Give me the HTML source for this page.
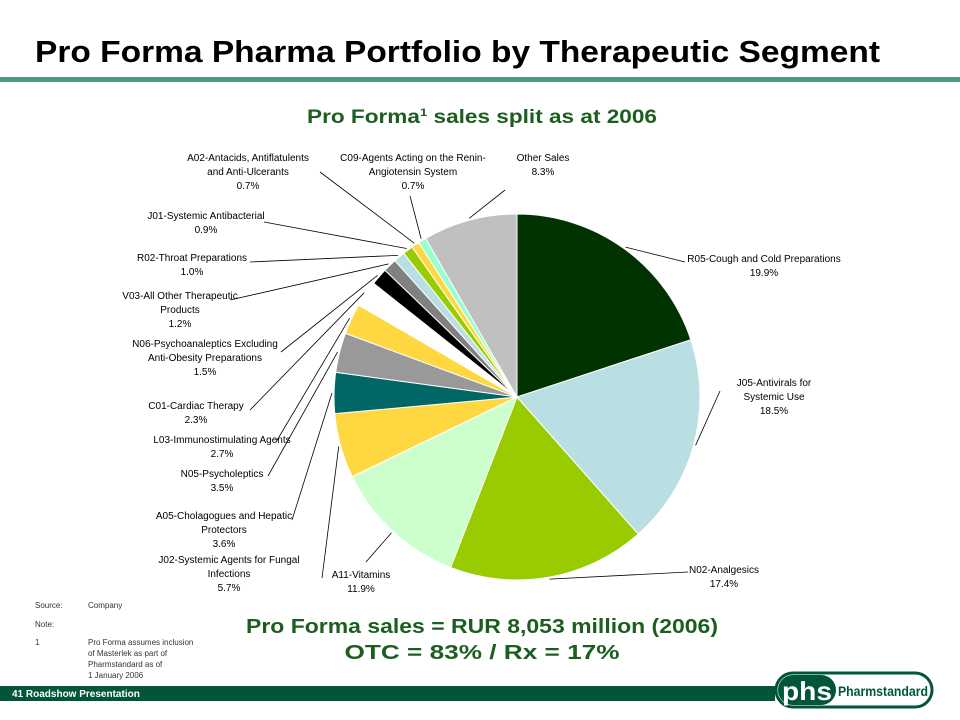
<!DOCTYPE html>
<html><head><meta charset="utf-8"><style>
body{margin:0;background:#fff;}
svg{display:block;font-family:"Liberation Sans",sans-serif;}
</style></head><body>
<svg id="chart" width="960" height="720" viewBox="0 0 960 720" xmlns="http://www.w3.org/2000/svg">
<text x="35" y="62" font-size="31" font-weight="bold" fill="#000" textLength="845" lengthAdjust="spacingAndGlyphs">Pro Forma Pharma Portfolio by Therapeutic Segment</text>
<rect x="0" y="77" width="960" height="5" fill="#4a9a80"/>
<text x="482" y="123" font-size="19" font-weight="bold" fill="#1b5e20" text-anchor="middle" textLength="350" lengthAdjust="spacingAndGlyphs">Pro Forma<tspan font-size="11" dy="-7">1</tspan><tspan dy="7"> sales split as at 2006</tspan></text>
<g id="pie"></g>
<g id="labels"></g>
<g font-size="8" fill="#333">
<text x="35" y="608">Source:</text><text x="88" y="608">Company</text>
<text x="35" y="627">Note:</text>
<text x="35" y="645">1</text>
<text x="88" y="645">Pro Forma assumes inclusion</text>
<text x="88" y="656">of Masterlek as part of</text>
<text x="88" y="667">Pharmstandard as of</text>
<text x="88" y="678">1 January 2006</text>
</g>
<text x="482" y="633" font-size="20" font-weight="bold" fill="#1b5e20" text-anchor="middle" textLength="472" lengthAdjust="spacingAndGlyphs">Pro Forma sales = RUR 8,053 million (2006)</text>
<text x="482" y="659" font-size="20" font-weight="bold" fill="#1b5e20" text-anchor="middle" textLength="275" lengthAdjust="spacingAndGlyphs">OTC = 83% / Rx = 17%</text>
<rect x="0" y="686" width="775" height="15" fill="#00553b"/>
<text x="12" y="697" font-size="10" font-weight="bold" fill="#fff">41   Roadshow Presentation</text>
<g>
<rect x="776" y="673" width="156" height="34" rx="17" fill="#fff" stroke="#00553b" stroke-width="3"/>
<rect x="778" y="675" width="58" height="30" rx="15" fill="#00553b"/>
<text x="782" y="700" font-size="26" font-weight="bold" fill="#fff" textLength="50" lengthAdjust="spacingAndGlyphs">phs</text>
<text x="838" y="696" font-size="14" font-weight="bold" fill="#00553b" textLength="90" lengthAdjust="spacingAndGlyphs">Pharmstandard</text>
</g>
</svg>
<script>
const categories=["R05-Cough and Cold Preparations","J05-Antivirals for Systemic Use","N02-Analgesics","A11-Vitamins","J02-Systemic Agents for Fungal Infections","A05-Cholagogues and Hepatic Protectors","N05-Psycholeptics","L03-Immunostimulating Agents","C01-Cardiac Therapy","N06-Psychoanaleptics Excluding Anti-Obesity Preparations","V03-All Other Therapeutic Products","R02-Throat Preparations","J01-Systemic Antibacterial","A02-Antacids, Antiflatulents and Anti-Ulcerants","C09-Agents Acting on the Renin-Angiotensin System","Other Sales"];
const values=[19.9,18.5,17.4,11.9,5.7,3.6,3.5,2.7,2.3,1.5,1.2,1.0,0.9,0.7,0.7,8.3];
const valueLabels=["19.9%","18.5%","17.4%","11.9%","5.7%","3.6%","3.5%","2.7%","2.3%","1.5%","1.2%","1.0%","0.9%","0.7%","0.7%","8.3%"];
const colors=["#003300","#b9dfe3","#99cc00","#ccffcc","#ffd740","#006666","#999999","#ffd740","#ffffff","#000000","#808080","#b9dfe3","#99cc00","#ffd740","#99ffcc","#c0c0c0"];
const layout=[
 {lines:["R05-Cough and Cold Preparations"],x:764,y:262,a:"middle",lx:685,ly:262},
 {lines:["J05-Antivirals for","Systemic Use"],x:774,y:386,a:"middle",lx:720,ly:391},
 {lines:["N02-Analgesics"],x:724,y:573,a:"middle",lx:688,ly:572},
 {lines:["A11-Vitamins"],x:361,y:578,a:"middle",lx:366,ly:562},
 {lines:["J02-Systemic Agents for Fungal","Infections"],x:229,y:563,a:"middle",lx:322,ly:578},
 {lines:["A05-Cholagogues and Hepatic","Protectors"],x:224,y:519,a:"middle",lx:292,ly:520},
 {lines:["N05-Psycholeptics"],x:222,y:477,a:"middle",lx:268,ly:476},
 {lines:["L03-Immunostimulating Agents"],x:222,y:443,a:"middle",lx:276,ly:442},
 {lines:["C01-Cardiac Therapy"],x:196,y:409,a:"middle",lx:250,ly:410},
 {lines:["N06-Psychoanaleptics Excluding","Anti-Obesity Preparations"],x:205,y:347,a:"middle",lx:281,ly:352},
 {lines:["V03-All Other Therapeutic","Products"],x:180,y:299,a:"middle",lx:230,ly:300},
 {lines:["R02-Throat Preparations"],x:192,y:261,a:"middle",lx:250,ly:262},
 {lines:["J01-Systemic Antibacterial"],x:206,y:219,a:"middle",lx:264,ly:222},
 {lines:["A02-Antacids, Antiflatulents","and Anti-Ulcerants"],x:248,y:161,a:"middle",lx:320,ly:172},
 {lines:["C09-Agents Acting on the Renin-","Angiotensin System"],x:413,y:161,a:"middle",lx:410,ly:196},
 {lines:["Other Sales"],x:543,y:161,a:"middle",lx:505,ly:190}
];
const cx=517,cy=397,R=183;
const NS="http://www.w3.org/2000/svg";
const pie=document.getElementById('pie'),lab=document.getElementById('labels');
const total=values.reduce((s,v)=>s+v,0);
function pt(ang,r){return [cx+r*Math.sin(ang),cy-r*Math.cos(ang)];}
let acc=0;
values.forEach((v,i)=>{
  const a0=acc/total*2*Math.PI; acc+=v; const a1=acc/total*2*Math.PI;
  const p0=pt(a0,R),p1=pt(a1,R);
  const path=document.createElementNS(NS,'path');
  path.setAttribute('d',`M${cx},${cy}L${p0[0]},${p0[1]}A${R},${R} 0 ${a1-a0>Math.PI?1:0} 1 ${p1[0]},${p1[1]}Z`);
  path.setAttribute('fill',colors[i]);
  path.setAttribute('stroke','#fff');path.setAttribute('stroke-width','1');
  
  
  pie.appendChild(path);
  const L=layout[i];
  const mid=(a0+a1)/2, e=pt(mid,R+2);
  const line=document.createElementNS(NS,'line');
  line.setAttribute('x1',L.lx);line.setAttribute('y1',L.ly);line.setAttribute('x2',e[0]);line.setAttribute('y2',e[1]);
  line.setAttribute('stroke','#000');line.setAttribute('stroke-width','0.8');
  
  
  lab.appendChild(line);
  const t=document.createElementNS(NS,'text');
  t.setAttribute('x',L.x);t.setAttribute('y',L.y);t.setAttribute('font-size','10');t.setAttribute('text-anchor',L.a);t.setAttribute('fill','#000');
  
  
  L.lines.concat([valueLabels[i]]).forEach((s,k)=>{
    const ts=document.createElementNS(NS,'tspan');
    ts.setAttribute('x',L.x);ts.setAttribute('dy',k?14:0);ts.textContent=s;t.appendChild(ts);
  });
  lab.appendChild(t);
});
</script>
</body></html>
